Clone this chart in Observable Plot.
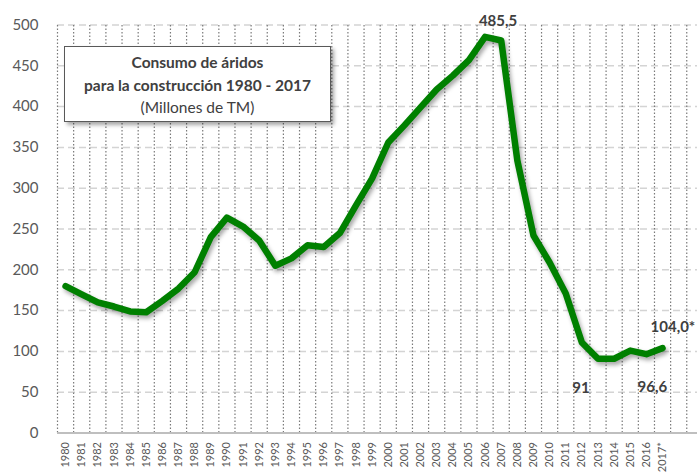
<!DOCTYPE html>
<html>
<head>
<meta charset="utf-8">
<script src="https://cdn.jsdelivr.net/npm/d3@7"></script>
<script src="https://cdn.jsdelivr.net/npm/@observablehq/plot@0.6"></script>
<style>
  body { margin: 0; background: #fff; }
  #wrap { position: relative; width: 697px; height: 472px; overflow: hidden; font-family: Lato, "Open Sans", sans-serif; }
  #titlebox {
    position: absolute; left: 64px; top: 46px; width: 267px; height: 76px;
    box-sizing: border-box; border: 1px solid #595959; background: #fff;
    box-shadow: 3px 3px 4px rgba(0,0,0,0.35);
    text-align: center; color: #404040; font-size: 15.5px; line-height: 22.5px; padding-top: 4px;
  }
  #titlebox b { font-weight: 700; }
</style>
</head>
<body>
<div id="wrap">
  <div id="chart"></div>
  <div id="titlebox"><b>Consumo de áridos</b><br><b>para la construcción 1980 - 2017</b><br>(Millones de TM)</div>
</div>
<script>
const years = [1980,1981,1982,1983,1984,1985,1986,1987,1988,1989,1990,1991,1992,1993,1994,1995,1996,1997,1998,1999,2000,2001,2002,2003,2004,2005,2006,2007,2008,2009,2010,2011,2012,2013,2014,2015,2016,2017];
const values = [180,170,160,155,149,148,162,177,197,240,264,253,236,205,214,230,228,245,279,312,356,377,399,421,438,457,485.5,481,334,242,209,171,111,91,91,101,96.6,104];
const xLabels = ["1980","1981","1982","1983","1984","1985","1986","1987","1988","1989","1990","1991","1992","1993","1994","1995","1996","1997","1998","1999","2000","2001","2002","2003","2004","2005","2006","2007","2008","2009","2010","2011","2012","2013","2014","2015","2016","2017*"];
const yTicks = [0,50,100,150,200,250,300,350,400,450,500];

const data = years.map((y, i) => ({year: y, value: values[i]}));
const boundaries = [years[0] - 0.5, ...years.map(y => y + 0.5), years[years.length - 1] + 1.5];
const byYear = y => data.filter(d => d.year === y);

const chart = Plot.plot({
  width: 697,
  height: 472,
  marginLeft: 57,
  marginRight: 0,
  marginTop: 24.5,
  marginBottom: 39.5,
  x: {domain: [1979.5, 2019.166], axis: null},
  y: {domain: [0, 500], axis: null},
  style: {fontFamily: "Lato, 'Open Sans', sans-serif", background: "white"},
  marks: [
    Plot.ruleY(yTicks.filter(d => d > 0), {stroke: "#d4d4d4", strokeWidth: 1.5, strokeDasharray: "7,4"}),
    Plot.ruleX(boundaries, {y1: 0, y2: 500, stroke: "#7a7a7a", strokeWidth: 1.2, strokeDasharray: "1.5,2"}),
    Plot.ruleY([0], {stroke: "#bfbfbf", strokeWidth: 2, ariaLabel: "baseline"}),
    Plot.axisY({ticks: yTicks, tickSize: 0, tickPadding: 19, fontSize: 15, fill: "#595959", label: null}),
    Plot.axisX({ticks: years, tickFormat: d => xLabels[years.indexOf(d)], tickRotate: -90, tickSize: 0, tickPadding: 9, fontSize: 11, fill: "#595959", label: null}),
    Plot.line(data, {x: "year", y: "value", stroke: "#008000", strokeWidth: 6.5, strokeLinejoin: "round", strokeLinecap: "round"}),
    Plot.text(byYear(2006), {x: "year", y: "value", text: () => "485,5", dx: 13, dy: -16, fontSize: 15, fontWeight: "bold", fill: "#404040"}),
    Plot.text(byYear(2013), {x: "year", y: "value", text: () => "91", dx: -17, dy: 29, fontSize: 15, fontWeight: "bold", fill: "#404040"}),
    Plot.text(byYear(2016), {x: "year", y: "value", text: () => "96,6", dx: 6, dy: 33, fontSize: 15, fontWeight: "bold", fill: "#404040"}),
    Plot.text(byYear(2017), {x: "year", y: "value", text: () => "104,0*", dx: -12, dy: -21, textAnchor: "start", fontSize: 15, fontWeight: "bold", fill: "#404040"})
  ]
});
document.getElementById("chart").appendChild(chart);
const lineG = chart.querySelector('g[aria-label="line"]');
if (lineG) lineG.style.filter = "drop-shadow(2px 3px 2px rgba(0,0,0,0.35))";
const baseG = chart.querySelector('g[aria-label="baseline"]');
if (baseG) baseG.style.filter = "drop-shadow(0px 2px 1.5px rgba(0,0,0,0.3))";
</script>
</body>
</html>
